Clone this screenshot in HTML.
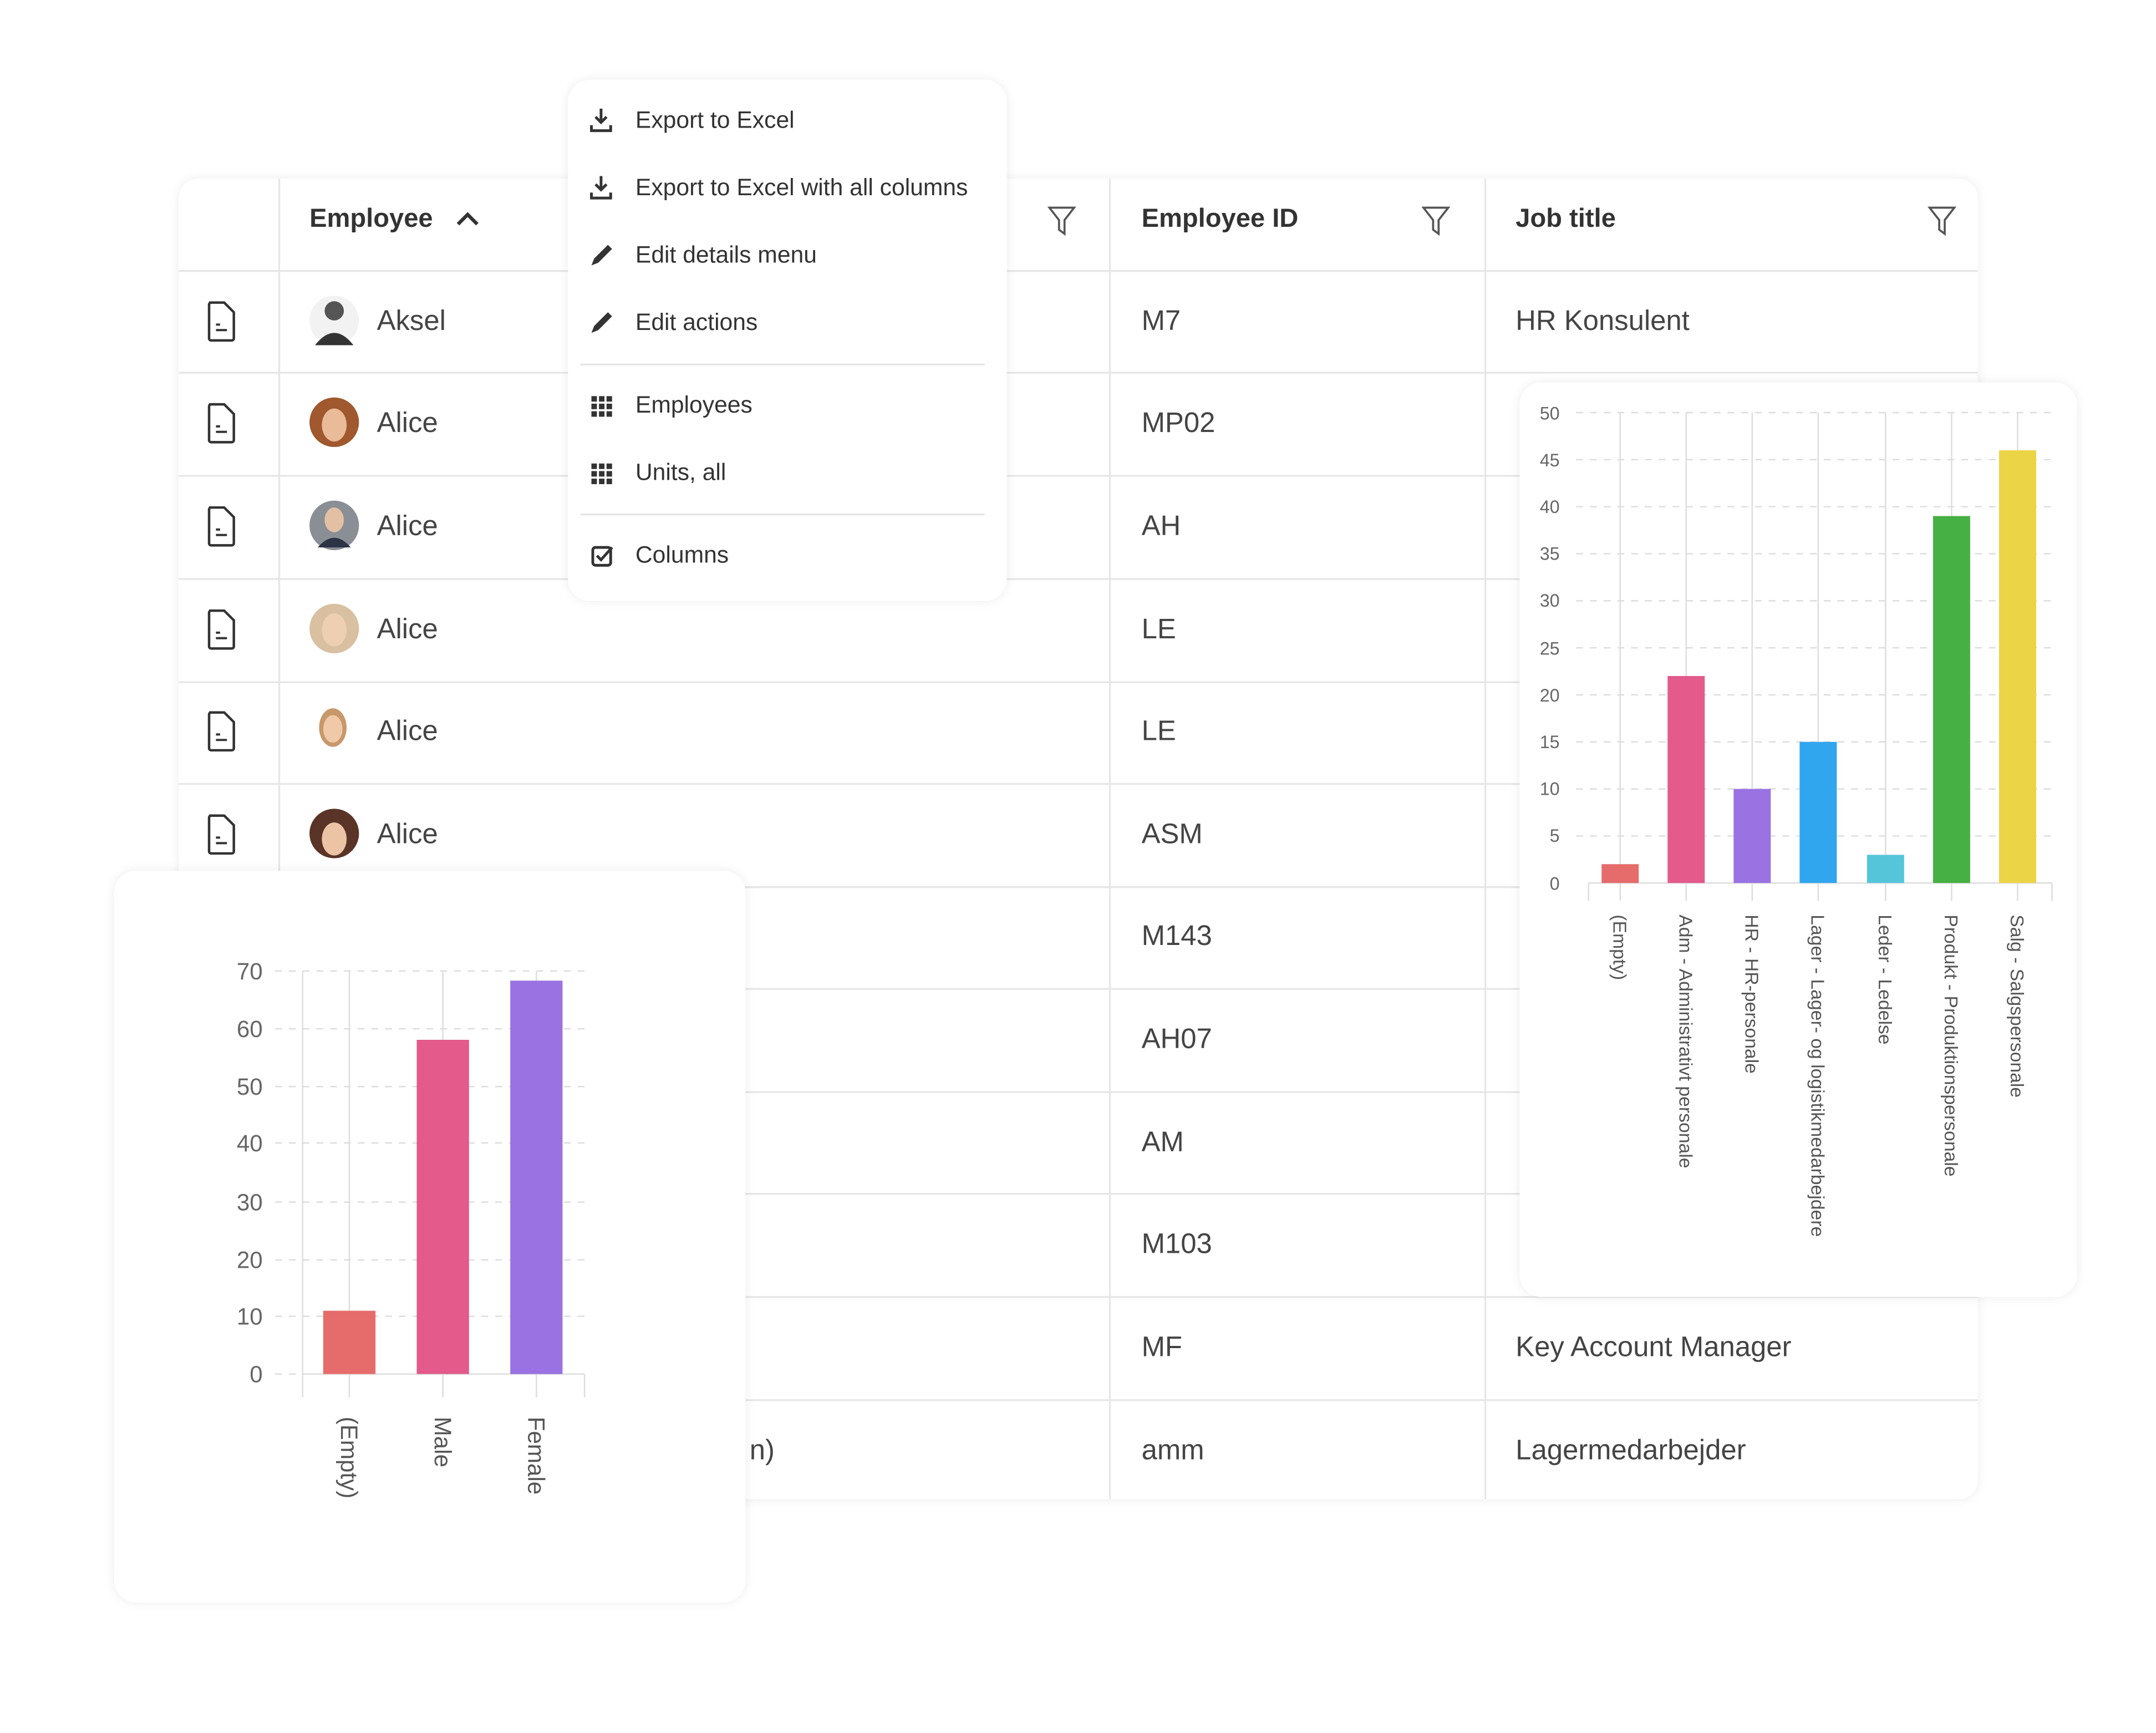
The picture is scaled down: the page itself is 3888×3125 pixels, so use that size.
<!DOCTYPE html>
<html><head><meta charset="utf-8"><style>
html,body{margin:0;padding:0;background:#fff;width:3888px;height:3125px;overflow:hidden}
svg{display:block}
text{font-family:"Liberation Sans",sans-serif}
</style></head><body>
<svg width="3888" height="3125" viewBox="0 0 1567.6 1260" xmlns="http://www.w3.org/2000/svg">
<defs>
<filter id="sh" x="-10%" y="-10%" width="120%" height="120%"><feGaussianBlur in="SourceAlpha" stdDeviation="4"/><feComponentTransfer><feFuncA type="linear" slope="0.08"/></feComponentTransfer><feMerge><feMergeNode/><feMergeNode in="SourceGraphic"/></feMerge></filter>
<g id="doc"><path d="M-9,-13 h11 l7,7 v19 a1.5,1.5 0 0 1 -1.5,1.5 h-15 a1.5,1.5 0 0 1 -1.5,-1.5 v-24.5 a1.5,1.5 0 0 1 1.5,-1.5z" fill="none" stroke="#333" stroke-width="1.8"/><path d="M-4,3 h3 M-4,7 h8" stroke="#333" stroke-width="1.6"/></g>
<g id="flt"><path d="M-9,-9 h18 l-7,9 v10 l-4,-3 v-7z" fill="none" stroke="#555" stroke-width="1.5"/></g>
</defs>
<rect x="130" y="130" width="1308" height="960" rx="14" fill="#fff" filter="url(#sh)"/>
<g stroke="#e6e6e6" stroke-width="1.3">
<line x1="203" y1="130" x2="203" y2="1090"/><line x1="807" y1="130" x2="807" y2="1090"/><line x1="1080" y1="130" x2="1080" y2="1090"/>
<line x1="130" y1="197" x2="1438" y2="197"/><line x1="130" y1="271" x2="1438" y2="271"/><line x1="130" y1="346" x2="1438" y2="346"/><line x1="130" y1="421" x2="1438" y2="421"/><line x1="130" y1="496" x2="1438" y2="496"/><line x1="130" y1="570" x2="1438" y2="570"/><line x1="130" y1="645" x2="1438" y2="645"/><line x1="130" y1="719" x2="1438" y2="719"/><line x1="130" y1="794" x2="1438" y2="794"/><line x1="130" y1="868" x2="1438" y2="868"/><line x1="130" y1="943" x2="1438" y2="943"/><line x1="130" y1="1018" x2="1438" y2="1018"/>
</g>
<g font-size="19" font-weight="bold" fill="#333">
<text x="225" y="165">Employee</text><text x="830" y="165">Employee ID</text><text x="1102" y="165">Job title</text>
</g>
<path d="M333,163 l7,-7 l7,7" fill="none" stroke="#333" stroke-width="2.6"/>
<use href="#flt" x="772" y="160"/><use href="#flt" x="1044" y="160"/><use href="#flt" x="1412" y="160"/>
<g>
<use href="#doc" x="161" y="233"/><use href="#doc" x="161" y="307"/><use href="#doc" x="161" y="382"/><use href="#doc" x="161" y="457"/><use href="#doc" x="161" y="531"/><use href="#doc" x="161" y="606"/>
</g>
<circle cx="243" cy="233" r="18" fill="#f2f2f2"/><circle cx="243" cy="226" r="7" fill="#555"/><path d="M229,251 q14,-18 28,0z" fill="#333"/>
<circle cx="243" cy="307" r="18" fill="#a0582e"/><ellipse cx="243" cy="309" rx="9" ry="12" fill="#e9bb98"/>
<circle cx="243" cy="382" r="18" fill="#8a8f96"/><ellipse cx="243" cy="378" rx="7" ry="9" fill="#e2c0a4"/><path d="M231,398 q12,-14 24,0z" fill="#2b3344"/>
<circle cx="243" cy="457" r="18" fill="#d8c0a0"/><ellipse cx="243" cy="458" rx="9" ry="12" fill="#efcfb2"/>
<ellipse cx="242" cy="529" rx="10" ry="14" fill="#c8976a"/><ellipse cx="242" cy="530" rx="7" ry="10" fill="#f0c9a8"/>
<circle cx="243" cy="606" r="18" fill="#5a3426"/><ellipse cx="243" cy="610" rx="9" ry="12" fill="#edc3a5"/>
<g font-size="20.5" fill="#444">
<text x="274" y="240">Aksel</text><text x="274" y="314">Alice</text><text x="274" y="389">Alice</text><text x="274" y="464">Alice</text><text x="274" y="538">Alice</text><text x="274" y="613">Alice</text>
<text x="830" y="240">M7</text><text x="830" y="314">MP02</text><text x="830" y="389">AH</text><text x="830" y="464">LE</text><text x="830" y="538">LE</text><text x="830" y="613">ASM</text><text x="830" y="687">M143</text><text x="830" y="762">AH07</text><text x="830" y="837">AM</text><text x="830" y="911">M103</text><text x="830" y="986">MF</text><text x="830" y="1061">amm</text>
<text x="1102" y="240">HR Konsulent</text><text x="1102" y="986">Key Account Manager</text><text x="1102" y="1061">Lagermedarbejder</text>
<text x="545" y="1061">n)</text>
</g>
<rect x="413" y="58" width="319" height="379" rx="16" fill="#fff" filter="url(#sh)"/>
<g fill="#333" stroke="#333">
<g transform="translate(437,87)"><path d="M0,-8 v10 M-4,-2 l4,4 l4,-4" fill="none" stroke-width="2"/><path d="M-7,4 v4 h14 v-4" fill="none" stroke-width="2"/></g>
<g transform="translate(437,136)"><path d="M0,-8 v10 M-4,-2 l4,4 l4,-4" fill="none" stroke-width="2"/><path d="M-7,4 v4 h14 v-4" fill="none" stroke-width="2"/></g>
<path d="M430,193 l2,-5 l10,-10 l3,3 l-10,10z" stroke="none"/>
<path d="M430,242 l2,-5 l10,-10 l3,3 l-10,10z" stroke="none"/>
</g>
<g fill="#333">
<rect x="430" y="288" width="4" height="4"/><rect x="435.5" y="288" width="4" height="4"/><rect x="441" y="288" width="4" height="4"/><rect x="430" y="293.5" width="4" height="4"/><rect x="435.5" y="293.5" width="4" height="4"/><rect x="441" y="293.5" width="4" height="4"/><rect x="430" y="299" width="4" height="4"/><rect x="435.5" y="299" width="4" height="4"/><rect x="441" y="299" width="4" height="4"/>
<rect x="430" y="337" width="4" height="4"/><rect x="435.5" y="337" width="4" height="4"/><rect x="441" y="337" width="4" height="4"/><rect x="430" y="342.5" width="4" height="4"/><rect x="435.5" y="342.5" width="4" height="4"/><rect x="441" y="342.5" width="4" height="4"/><rect x="430" y="348" width="4" height="4"/><rect x="435.5" y="348" width="4" height="4"/><rect x="441" y="348" width="4" height="4"/>
</g>
<rect x="431" y="398" width="13" height="13" rx="2" fill="none" stroke="#333" stroke-width="2"/><path d="M434,404 l3,3 l8,-9" fill="none" stroke="#333" stroke-width="2"/>
<line x1="422" y1="265" x2="716" y2="265" stroke="#e4e4e4" stroke-width="1.3"/><line x1="422" y1="374" x2="716" y2="374" stroke="#e4e4e4" stroke-width="1.3"/>
<g font-size="17.2" fill="#333">
<text x="462" y="93">Export to Excel</text><text x="462" y="142">Export to Excel with all columns</text><text x="462" y="191">Edit details menu</text><text x="462" y="240">Edit actions</text><text x="462" y="300">Employees</text><text x="462" y="349">Units, all</text><text x="462" y="409">Columns</text>
</g>
<rect x="1105" y="278" width="405" height="665" rx="16" fill="#fff" filter="url(#sh)"/>
<g stroke="#ddd" stroke-width="1" stroke-dasharray="5,5">
<line x1="1146" y1="300" x2="1492" y2="300"/><line x1="1146" y1="334.2" x2="1492" y2="334.2"/><line x1="1146" y1="368.4" x2="1492" y2="368.4"/><line x1="1146" y1="402.6" x2="1492" y2="402.6"/><line x1="1146" y1="436.8" x2="1492" y2="436.8"/><line x1="1146" y1="471" x2="1492" y2="471"/><line x1="1146" y1="505.2" x2="1492" y2="505.2"/><line x1="1146" y1="539.4" x2="1492" y2="539.4"/><line x1="1146" y1="573.6" x2="1492" y2="573.6"/><line x1="1146" y1="607.8" x2="1492" y2="607.8"/>
</g>
<g stroke="#ddd" stroke-width="1">
<line x1="1178" y1="300" x2="1178" y2="655"/><line x1="1226" y1="300" x2="1226" y2="655"/><line x1="1274" y1="300" x2="1274" y2="655"/><line x1="1322" y1="300" x2="1322" y2="655"/><line x1="1371" y1="300" x2="1371" y2="655"/><line x1="1419" y1="300" x2="1419" y2="655"/><line x1="1467" y1="300" x2="1467" y2="655"/>
<line x1="1155" y1="642" x2="1492" y2="642"/><line x1="1155" y1="642" x2="1155" y2="655"/><line x1="1492" y1="642" x2="1492" y2="655"/>
</g>
<rect x="1164.5" y="628.3" width="27" height="13.7" fill="#e66b6b"/>
<rect x="1212.5" y="491.5" width="27" height="150.5" fill="#e35a8b"/>
<rect x="1260.5" y="573.6" width="27" height="68.4" fill="#9a72e2"/>
<rect x="1308.5" y="539.4" width="27" height="102.6" fill="#30a6ef"/>
<rect x="1357.5" y="621.5" width="27" height="20.5" fill="#55c6d9"/>
<rect x="1405.5" y="375.2" width="27" height="266.8" fill="#47b044"/>
<rect x="1453.5" y="327.4" width="27" height="314.6" fill="#ecd447"/>
<g font-size="13" fill="#666" text-anchor="end">
<text x="1134" y="305">50</text><text x="1134" y="339">45</text><text x="1134" y="373">40</text><text x="1134" y="407">35</text><text x="1134" y="441">30</text><text x="1134" y="476">25</text><text x="1134" y="510">20</text><text x="1134" y="544">15</text><text x="1134" y="578">10</text><text x="1134" y="612">5</text><text x="1134" y="647">0</text>
</g>
<g font-size="13.6" fill="#555">
<text transform="translate(1173,665) rotate(90)">(Empty)</text>
<text transform="translate(1221,665) rotate(90)">Adm - Administrativt personale</text>
<text transform="translate(1269,665) rotate(90)">HR - HR-personale</text>
<text transform="translate(1317,665) rotate(90)">Lager - Lager- og logistikmedarbejdere</text>
<text transform="translate(1366,665) rotate(90)">Leder - Ledelse</text>
<text transform="translate(1414,665) rotate(90)">Produkt - Produktionspersonale</text>
<text transform="translate(1462,665) rotate(90)">Salg - Salgspersonale</text>
</g>
<rect x="83" y="633" width="459" height="532" rx="16" fill="#fff" filter="url(#sh)"/>
<g stroke="#ddd" stroke-width="1" stroke-dasharray="5,5">
<line x1="200" y1="706" x2="425" y2="706"/><line x1="200" y1="748" x2="425" y2="748"/><line x1="200" y1="790" x2="425" y2="790"/><line x1="200" y1="831" x2="425" y2="831"/><line x1="200" y1="874" x2="425" y2="874"/><line x1="200" y1="916" x2="425" y2="916"/><line x1="200" y1="957" x2="425" y2="957"/><line x1="200" y1="999" x2="220" y2="999"/>
</g>
<g stroke="#ddd" stroke-width="1">
<line x1="254" y1="706" x2="254" y2="1016"/><line x1="322" y1="706" x2="322" y2="1016"/><line x1="390" y1="706" x2="390" y2="1016"/>
<line x1="220" y1="706" x2="220" y2="1016"/><line x1="220" y1="999" x2="425" y2="999"/><line x1="425" y1="999" x2="425" y2="1016"/>
</g>
<rect x="235" y="953" width="38" height="46" fill="#e66b6b"/>
<rect x="303" y="756" width="38" height="243" fill="#e35a8b"/>
<rect x="371" y="713" width="38" height="286" fill="#9a72e2"/>
<g font-size="17" fill="#666" text-anchor="end">
<text x="191" y="712">70</text><text x="191" y="754">60</text><text x="191" y="796">50</text><text x="191" y="837">40</text><text x="191" y="880">30</text><text x="191" y="922">20</text><text x="191" y="963">10</text><text x="191" y="1005">0</text>
</g>
<g font-size="17" fill="#555">
<text transform="translate(248,1030) rotate(90)">(Empty)</text>
<text transform="translate(316,1030) rotate(90)">Male</text>
<text transform="translate(384,1030) rotate(90)">Female</text>
</g>
</svg>
</body></html>
